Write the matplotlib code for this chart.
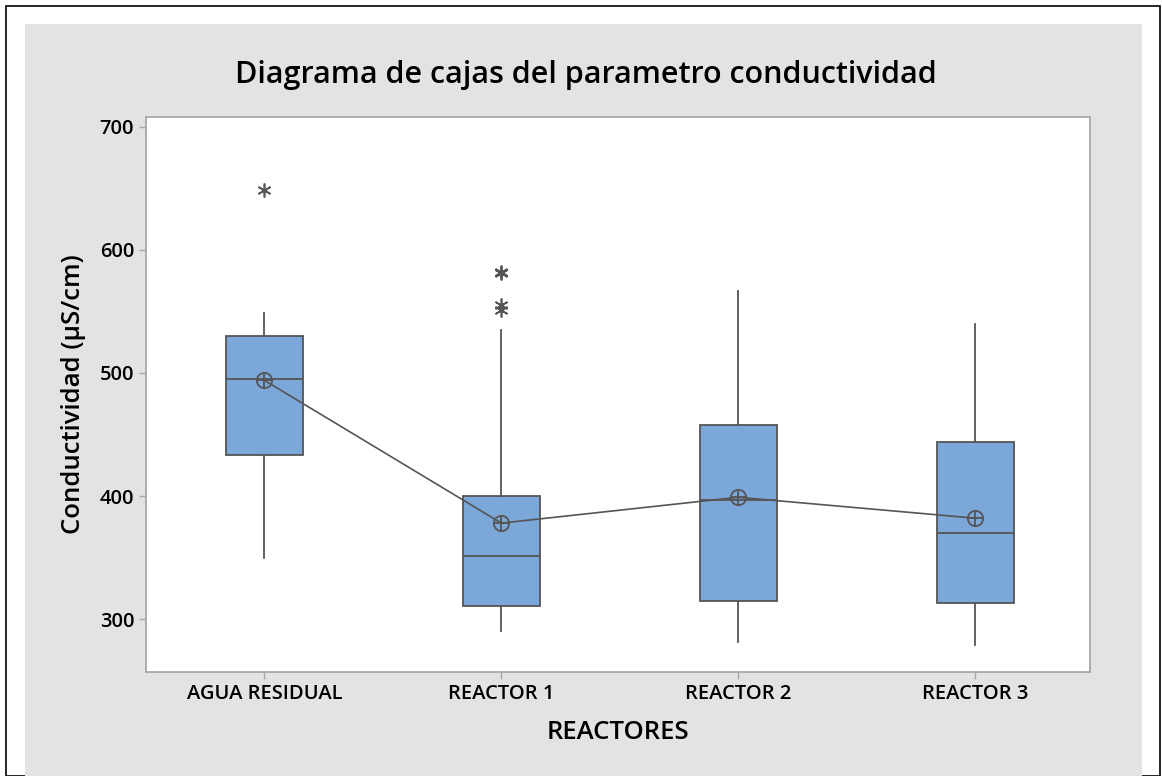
import matplotlib.pyplot as plt
from matplotlib.patches import Rectangle

plt.rcParams['font.family'] = ['Open Sans', 'DejaVu Sans']

categories = ['AGUA RESIDUAL', 'REACTOR 1', 'REACTOR 2', 'REACTOR 3']
whislo = [350, 290, 281, 279]
q1 = [433, 311, 315, 313]
median = [495, 351, 397, 370]
q3 = [530, 400, 458, 444]
whishi = [549, 535, 567, 540]
means = [494, 378, 399, 382]
fliers = [[649], [581, 582, 551, 555], [], []]

fig = plt.figure(figsize=(11.62, 7.76), dpi=100)
fig.patch.set_facecolor('white')

# outer frame and grey panel
fig.patches.append(Rectangle((6 / 1162, 0), 1154 / 1162, 770 / 776, transform=fig.transFigure,
                             fill=False, edgecolor='black', linewidth=1.2, zorder=-2))
fig.patches.append(Rectangle((25 / 1162, 0), 1117 / 1162, 752 / 776, transform=fig.transFigure,
                             facecolor='#e3e3e3', edgecolor='none', zorder=-2))

ax = fig.add_axes([146 / 1162, 1 - 672 / 776, 944 / 1162, 555 / 776])
ax.set_zorder(1)
ax.set_facecolor('white')

stats = []
for i, name in enumerate(categories):
    stats.append({'label': name, 'whislo': whislo[i], 'q1': q1[i], 'med': median[i],
                  'q3': q3[i], 'whishi': whishi[i], 'mean': means[i], 'fliers': fliers[i]})

edge = '#555555'
pos = list(range(1, len(categories) + 1))
ax.bxp(stats, positions=pos, widths=0.325, patch_artist=True, showcaps=False,
       boxprops=dict(facecolor='#7ba7d9', edgecolor=edge, linewidth=1.3),
       medianprops=dict(color=edge, linewidth=1.3),
       whiskerprops=dict(color=edge, linewidth=1.3),
       flierprops=dict(marker=(6, 2, 0), markersize=10, markeredgecolor=edge,
                       markeredgewidth=1.2, linestyle='none'))

# connect means
ax.plot(pos, means, color=edge, linewidth=1.2, zorder=4)
ax.plot(pos, means, linestyle='none', marker='o', markersize=11, markerfacecolor='none',
        markeredgecolor=edge, markeredgewidth=1.3, zorder=5)
ax.plot(pos, means, linestyle='none', marker='+', markersize=11, markeredgecolor=edge,
        markeredgewidth=1.3, zorder=5)

ax.set_xlim(0.5, 4.485)
ax.set_ylim(257, 708)
ax.set_yticks([300, 400, 500, 600, 700])
ax.set_xticks(pos)
ax.set_xticklabels(categories)

for s in ax.spines.values():
    s.set_color('#a8a8a8')
    s.set_linewidth(1.3)
ax.tick_params(axis='both', colors='#a8a8a8', length=5, width=1, labelcolor='black',
               labelsize=14.5)
for lab in ax.get_xticklabels() + ax.get_yticklabels():
    lab.set_fontweight('semibold')

ax.set_xlabel('REACTORES', fontsize=18.5, fontweight='semibold', labelpad=12)
ax.set_ylabel('Conductividad (µS/cm)', fontsize=18.5, fontweight='semibold', labelpad=10)
fig.text(586 / 1162, 1 - 75 / 776, 'Diagrama de cajas del parametro conductividad',
         ha='center', va='center', fontsize=22, fontweight='semibold')

fig.savefig('out.png', dpi=100)
